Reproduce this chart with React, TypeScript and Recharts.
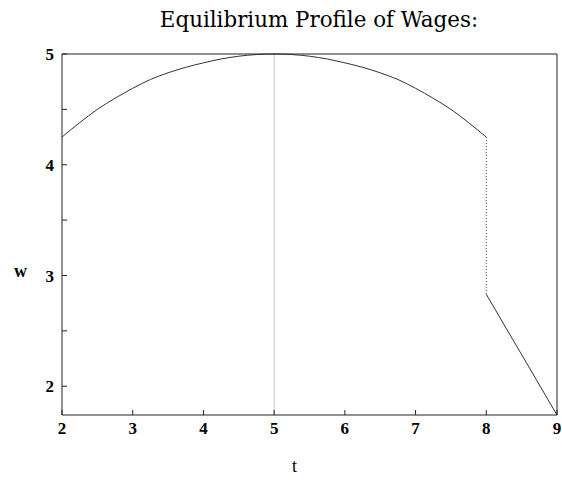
import React from 'react';
import { LineChart, Line, XAxis, YAxis, ReferenceLine, Label } from 'recharts';

// wage path w(t) before the switch at t = 8
const pathT = [2, 2.25, 2.5, 2.75, 3, 3.25, 3.5, 3.75, 4, 4.25, 4.5, 4.75, 5, 5.25, 5.5, 5.75, 6, 6.25, 6.5, 6.75, 7, 7.25, 7.5, 7.75, 8];
const pathW = [4.25, 4.38, 4.5, 4.6, 4.69, 4.77, 4.83, 4.88, 4.92, 4.955, 4.98, 4.995, 5, 4.995, 4.98, 4.955, 4.92, 4.88, 4.83, 4.77, 4.69, 4.6, 4.5, 4.38, 4.25];

// drop at t = 8 and the falling tail
const jumpT = [8, 8];
const jumpW = [4.25, 2.83];
const tailT = [8, 9];
const tailW = [2.83, 1.74];

const peakT = 5;
const xTicks = [2, 3, 4, 5, 6, 7, 8, 9];
const yTicks = [2, 2.5, 3, 3.5, 4, 4.5, 5];

const toRows = (ts: number[], ws: number[]) => ts.map((t, i) => ({ t, w: ws[i] }));
const pathData = toRows(pathT, pathW);
const jumpData = toRows(jumpT, jumpW);
const tailData = toRows(tailT, tailW);

const serif = '"Liberation Serif", "DejaVu Serif", serif';
const tickStyle = { fontFamily: serif, fontWeight: 'bold', fontSize: 17, fill: '#000' };
const frame = '#222';
const blank = () => '';

export default function App() {
  return (
    <div style={{ position: 'absolute', left: 0, top: 0, width: 562, height: 494, background: '#fff' }}>
      <div
        style={{
          position: 'absolute',
          left: 0,
          width: 638,
          top: 7,
          textAlign: 'center',
          fontFamily: '"DejaVu Serif", serif',
          fontSize: 21.4,
          color: '#000',
          whiteSpace: 'nowrap',
        }}
      >
        Equilibrium Profile of Wages:
      </div>
      <LineChart width={562} height={494} margin={{ top: 0, right: 0, bottom: 0, left: 0 }}>
        <XAxis
          xAxisId="bottom"
          dataKey="t"
          type="number"
          domain={[2, 9]}
          ticks={xTicks}
          allowDuplicatedCategory={false}
          height={79}
          tickSize={-5}
          tickMargin={12}
          tick={tickStyle}
          axisLine={{ stroke: frame }}
          tickLine={{ stroke: frame }}
        >
          <Label value="t" position="insideBottom" offset={22} dx={-15} style={{ fontFamily: serif, fontSize: 18, fill: '#000' }} />
        </XAxis>
        <XAxis
          xAxisId="top"
          orientation="top"
          dataKey="t"
          type="number"
          domain={[2, 9]}
          ticks={xTicks}
          allowDuplicatedCategory={false}
          height={54}
          tickSize={-5}
          tickFormatter={blank}
          axisLine={{ stroke: frame }}
          tickLine={{ stroke: frame }}
        />
        <YAxis
          yAxisId="left"
          type="number"
          domain={[1.74, 5]}
          ticks={yTicks}
          width={62}
          tickSize={-5}
          tickMargin={13}
          tickFormatter={(v: number) => (Number.isInteger(v) ? String(v) : '')}
          tick={tickStyle}
          axisLine={{ stroke: frame }}
          tickLine={{ stroke: frame }}
        >
          <Label value="w" position="insideLeft" offset={14} dy={36} style={{ fontFamily: serif, fontWeight: 'bold', fontSize: 18, fill: '#000' }} />
        </YAxis>
        <YAxis
          yAxisId="right"
          orientation="right"
          type="number"
          domain={[1.74, 5]}
          ticks={yTicks}
          width={5}
          tickSize={-5}
          tickFormatter={blank}
          axisLine={{ stroke: frame }}
          tickLine={{ stroke: frame }}
        />
        <ReferenceLine xAxisId="bottom" yAxisId="left" x={peakT} stroke="#c4c4c4" strokeWidth={1} />
        <Line
          xAxisId="bottom"
          yAxisId="left"
          data={pathData}
          dataKey="w"
          type="monotone"
          stroke="#333"
          strokeWidth={1}
          dot={false}
          isAnimationActive={false}
        />
        <Line
          xAxisId="bottom"
          yAxisId="left"
          data={jumpData}
          dataKey="w"
          type="linear"
          stroke="#444"
          strokeWidth={1}
          strokeDasharray="1 2"
          dot={false}
          isAnimationActive={false}
        />
        <Line
          xAxisId="bottom"
          yAxisId="left"
          data={tailData}
          dataKey="w"
          type="linear"
          stroke="#333"
          strokeWidth={1}
          dot={false}
          isAnimationActive={false}
        />
      </LineChart>
    </div>
  );
}
